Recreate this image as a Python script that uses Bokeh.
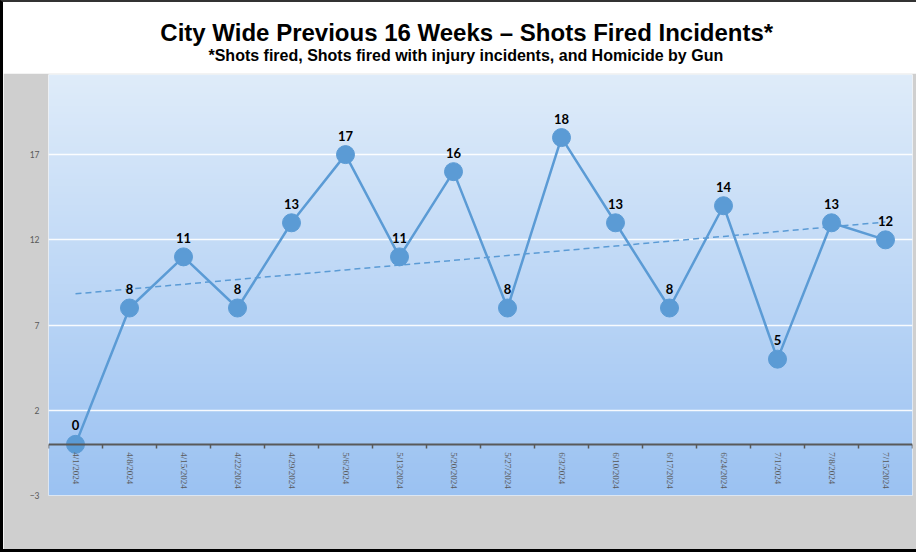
import numpy as np
from bokeh.plotting import figure
from bokeh.models import Range1d, FixedTicker, LinearAxis
from bokeh.layouts import column
from bokeh.embed import file_html
from bokeh.resources import INLINE
from bokeh.core.properties import value

# ---- data ----
dates = ["4/1/2024", "4/8/2024", "4/15/2024", "4/22/2024", "4/29/2024", "5/6/2024",
         "5/13/2024", "5/20/2024", "5/27/2024", "6/3/2024", "6/10/2024", "6/17/2024",
         "6/24/2024", "7/1/2024", "7/8/2024", "7/15/2024"]
counts = [0, 8, 11, 8, 13, 17, 11, 16, 8, 18, 13, 8, 14, 5, 13, 12]
y_ticks = [-3, 2, 7, 12, 17]
title_text = "City Wide Previous 16 Weeks \u2013 Shots Fired Incidents*"
subtitle_text = "*Shots fired, Shots fired with injury incidents, and Homicide by Gun"

x = list(range(len(dates)))
slope, intercept = np.polyfit(x, counts, 1)
trend = [intercept + slope * xi for xi in x]

LINE = "#5B9BD5"
GRAY_TXT = "#595959"

# ---- title panel ----
head = figure(width=913, height=71, x_range=Range1d(0, 913), y_range=Range1d(0, 71),
              output_backend="svg", toolbar_location=None, min_border=0,
              x_axis_location=None, y_axis_location=None)
head.grid.visible = False
head.outline_line_color = None
head.background_fill_color = "white"
head.border_fill_color = "white"
head.text(x=[442], y=[41], text=[title_text], text_font=value("Liberation Sans"),
          text_font_style="bold", text_font_size="24px", text_align="center",
          text_baseline="middle", text_color="black")
head.text(x=[441], y=[18], text=[subtitle_text], text_font=value("Liberation Sans"),
          text_font_style="bold", text_font_size="16px", text_align="center",
          text_baseline="middle", text_color="black")

# ---- chart ----
p = figure(width=913, height=476, x_range=Range1d(-0.5, len(dates) - 0.5),
           y_range=Range1d(-3, 21.7), output_backend="svg", toolbar_location=None,
           min_border_left=45, min_border_right=4, min_border_top=1, min_border_bottom=54,
           x_axis_location=None)
p.border_fill_color = "#CFCFCF"
p.outline_line_color = None
p.xgrid.visible = False
p.ygrid.ticker = FixedTicker(ticks=y_ticks)
p.ygrid.grid_line_color = "white"
p.ygrid.grid_line_width = 1.5
p.ygrid.grid_line_alpha = 0.9

yax = p.yaxis[0]
yax.ticker = FixedTicker(ticks=y_ticks)
yax.axis_line_color = None
yax.major_tick_line_color = None
yax.minor_tick_line_color = None
yax.major_tick_out = 0
yax.major_tick_in = 0
yax.major_label_text_color = GRAY_TXT
yax.major_label_text_font = "Lato"
yax.major_label_text_font_size = "8.5px"
yax.major_label_standoff = 9

# gradient background
n = 200
top_c = np.array([0xDF, 0xEC, 0xFA], dtype=float)
bot_c = np.array([0x9B, 0xC2, 0xF2], dtype=float)
t = np.linspace(0, 1, n)[:, None]
cols = bot_c * (1 - t) + top_c * t
img = np.empty((n, 1), dtype=np.uint32)
view = img.view(dtype=np.uint8).reshape((n, 1, 4))
view[:, 0, 0] = cols[:, 0]
view[:, 0, 1] = cols[:, 1]
view[:, 0, 2] = cols[:, 2]
view[:, 0, 3] = 255
p.image_rgba(image=[img], x=-0.5, y=-3, dw=len(dates), dh=24.7, level="image")

# x axis: tick marks at category boundaries
tick_ax = LinearAxis(fixed_location=0)
tick_ax.ticker = FixedTicker(ticks=[i - 0.5 for i in range(len(dates) + 1)])
tick_ax.axis_line_color = "#595959"
tick_ax.axis_line_width = 2
tick_ax.major_tick_line_color = "#595959"
tick_ax.major_tick_line_width = 1.5
tick_ax.major_tick_out = 4
tick_ax.major_tick_in = 0
tick_ax.minor_tick_line_color = None
tick_ax.major_label_text_font_size = "0px"
tick_ax.major_label_standoff = 0
p.add_layout(tick_ax, "below")

# x axis: date labels at category centres
lab_ax = LinearAxis(fixed_location=0)
lab_ax.ticker = FixedTicker(ticks=x)
lab_ax.major_label_overrides = {i: d for i, d in enumerate(dates)}
lab_ax.axis_line_color = None
lab_ax.major_tick_line_color = None
lab_ax.minor_tick_line_color = None
lab_ax.major_tick_out = 0
lab_ax.major_tick_in = 0
lab_ax.major_label_orientation = "vertical"
lab_ax.major_label_text_color = GRAY_TXT
lab_ax.major_label_text_font = "Liberation Sans Narrow"
lab_ax.major_label_text_font_size = "9px"
lab_ax.major_label_standoff = 8
p.add_layout(lab_ax, "below")

# trendline
p.line(x, trend, line_color=LINE, line_width=1.5, line_dash="6 4")
# series
p.line(x, counts, line_color=LINE, line_width=2.5)
p.scatter(x, counts, size=18, fill_color=LINE, line_color=LINE)
p.text(x, counts, text=[str(c) for c in counts], y_offset=-14, text_align="center",
       text_baseline="bottom", text_font=value("Lato"), text_font_style="bold",
       text_font_size="13px", text_color="black")

layout = column(head, p, styles={"border-left": "3px solid black",
                                 "border-top": "2px solid #333333",
                                 "border-bottom": "3px solid black"})

open("out.html", "w").write(file_html(layout, INLINE))
